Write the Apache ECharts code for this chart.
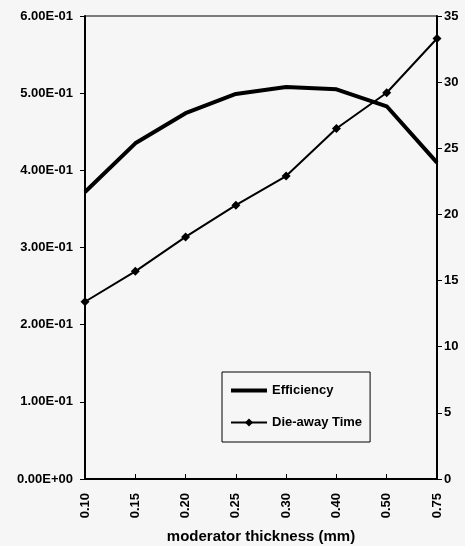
<!DOCTYPE html>
<html>
<head>
<meta charset="utf-8">
<script src="https://cdn.jsdelivr.net/npm/echarts@6/dist/echarts.min.js"></script>
<style>
html,body{margin:0;padding:0;background:#f6f6f6;}
#chart{width:465px;height:546px;}
</style>
</head>
<body>
<div id="chart"></div>
<script>
var categories = ['0.10', '0.15', '0.20', '0.25', '0.30', '0.40', '0.50', '0.75'];
var efficiency = [0.372, 0.435, 0.474, 0.499, 0.508, 0.505, 0.483, 0.410];
var dieAwayTime = [13.4, 15.7, 18.3, 20.7, 22.9, 26.5, 29.2, 33.3];
var leftTickLabels = ['0.00E+00', '1.00E-01', '2.00E-01', '3.00E-01', '4.00E-01', '5.00E-01', '6.00E-01'];
var rightTickLabels = ['0', '5', '10', '15', '20', '25', '30', '35'];

var chart = echarts.init(document.getElementById('chart'));
var font = 'Liberation Sans, Arial, sans-serif';
chart.setOption({
  backgroundColor: '#f6f6f6',
  animation: false,
  grid: {left: 85, right: 28, top: 16, bottom: 67, outerBoundsMode: 'none', containLabel: false,
    show: true, borderColor: '#000', borderWidth: 1, backgroundColor: 'transparent'},
  legend: {
    left: 222, top: 372, orient: 'vertical',
    borderColor: '#000', borderWidth: 1, padding: [12, 8, 13, 8], itemGap: 19,
    itemWidth: 36, itemHeight: 10,
    textStyle: {fontFamily: font, fontSize: 13, fontWeight: 'bold', color: '#000'},
    data: [
      {name: 'Efficiency', icon: 'path://M0,0L36,0L36,4L0,4Z'},
      {name: 'Die-away Time'}
    ]
  },
  xAxis: {
    type: 'category', data: categories, boundaryGap: false,
    name: 'moderator thickness (mm)', nameLocation: 'middle', nameGap: 50,
    nameTextStyle: {fontFamily: font, fontSize: 15, fontWeight: 'bold', color: '#000'},
    axisLine: {lineStyle: {color: '#000', width: 2}},
    axisTick: {show: true, length: 5, inside: true, lineStyle: {color: '#000'}},
    axisLabel: {rotate: 90, margin: 14, fontFamily: font, fontSize: 13, fontWeight: 'bold', color: '#000'}
  },
  yAxis: [{
    type: 'value', min: 0, max: 0.6, interval: 0.1, position: 'left',
    axisLine: {show: true, lineStyle: {color: '#000', width: 2}},
    axisTick: {show: true, length: 5, lineStyle: {color: '#000'}},
    splitLine: {show: false},
    axisLabel: {margin: 12, fontFamily: font, fontSize: 13, fontWeight: 'bold', color: '#000',
      formatter: function (v) { return leftTickLabels[Math.round(v * 10)]; }}
  }, {
    type: 'value', min: 0, max: 35, interval: 5, position: 'right',
    axisLine: {show: true, lineStyle: {color: '#000', width: 2}},
    axisTick: {show: true, length: 5, lineStyle: {color: '#000'}},
    splitLine: {show: false},
    axisLabel: {margin: 7, fontFamily: font, fontSize: 13, fontWeight: 'bold', color: '#000',
      formatter: function (v) { return rightTickLabels[Math.round(v / 5)]; }}
  }],
  series: [{
    name: 'Efficiency', type: 'line', yAxisIndex: 0, data: efficiency,
    symbol: 'none', symbolKeepAspect: true, lineStyle: {color: '#000', width: 4}, itemStyle: {color: '#000'}
  }, {
    name: 'Die-away Time', type: 'line', yAxisIndex: 1, data: dieAwayTime,
    symbol: 'diamond', symbolSize: 9, lineStyle: {color: '#000', width: 2}, itemStyle: {color: '#000'}
  }]
});
</script>
</body>
</html>
